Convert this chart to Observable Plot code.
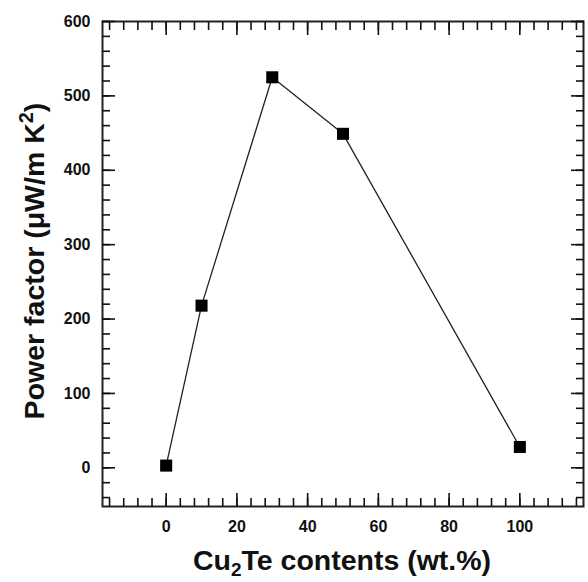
<!DOCTYPE html>
<html>
<head>
<meta charset="utf-8">
<script src="https://cdn.jsdelivr.net/npm/d3@7"></script>
<script src="https://cdn.jsdelivr.net/npm/@observablehq/plot@0.6"></script>
<style>
  html, body { margin: 0; padding: 0; background: #fff; }
  #chart { width: 588px; height: 582px; }
</style>
</head>
<body>
<div id="chart"></div>
<script>
const cu2teContent = [0, 10, 30, 50, 100];
const powerFactor = [3, 218, 525, 449, 28];
const xMajorTicks = [0, 20, 40, 60, 80, 100];
const xMinorTicks = d3.range(-16, 117, 4);
const yMajorTicks = [0, 100, 200, 300, 400, 500, 600];
const yMinorTicks = d3.range(-40, 601, 20);
const xTitle = ["Cu", "2", "Te contents (wt.%)"];
const yTitle = ["Power factor (\u03BCW/m K", "2", ")"];

const data = cu2teContent.map((x, i) => ({x, y: powerFactor[i]}));
const font = "'Liberation Sans', Arial, sans-serif";

const chart = Plot.plot({
  width: 588,
  height: 582,
  marginLeft: 102,
  marginRight: 5,
  marginTop: 21,
  marginBottom: 76,
  style: {fontFamily: font, background: "#fff", color: "#111"},
  x: {domain: [-18, 118]},
  y: {domain: [-52, 600]},
  marks: [
    Plot.frame({strokeWidth: 2, stroke: "#222"}),
    Plot.axisX(xMinorTicks, {anchor: "bottom", tickSize: -8, strokeWidth: 1.6, text: null, label: null}),
    Plot.axisX(xMinorTicks, {anchor: "top", tickSize: -8, strokeWidth: 1.6, text: null, label: null}),
    Plot.axisX(xMajorTicks, {anchor: "bottom", tickSize: -13, strokeWidth: 1.6, tickPadding: 27, fontSize: 16, fontWeight: "bold", label: null}),
    Plot.axisX(xMajorTicks, {anchor: "top", tickSize: -13, strokeWidth: 1.6, text: null, label: null}),
    Plot.axisY(yMinorTicks, {anchor: "left", tickSize: -8, strokeWidth: 1.6, text: null, label: null}),
    Plot.axisY(yMinorTicks, {anchor: "right", tickSize: -8, strokeWidth: 1.6, text: null, label: null}),
    Plot.axisY(yMajorTicks, {anchor: "left", tickSize: -13, strokeWidth: 1.6, tickPadding: 25, fontSize: 16, fontWeight: "bold", label: null}),
    Plot.axisY(yMajorTicks, {anchor: "right", tickSize: -13, strokeWidth: 1.6, text: null, label: null}),
    Plot.line(data, {x: "x", y: "y", stroke: "#222", strokeWidth: 1.3}),
    Plot.dot(data, {x: "x", y: "y", symbol: "square", r: 6.8, fill: "#000", stroke: "none"})
  ]
});

document.getElementById("chart").appendChild(chart);

// axis titles with sub/superscripts
const svg = d3.select(chart.tagName === "svg" ? chart : chart.querySelector("svg"));
const xt = svg.append("text")
  .attr("x", 342).attr("y", 570)
  .attr("text-anchor", "middle")
  .style("font-family", font).style("font-size", "28.5px").style("font-weight", "bold").attr("fill", "#111");
xt.append("tspan").text(xTitle[0]);
xt.append("tspan").attr("dy", 6).style("font-size", "19px").text(xTitle[1]);
xt.append("tspan").attr("dy", -6).text(xTitle[2]);

const yt = svg.append("text")
  .attr("transform", "translate(44,261) rotate(-90)")
  .attr("text-anchor", "middle")
  .style("font-family", font).style("font-size", "28.5px").style("font-weight", "bold").attr("fill", "#111");
yt.append("tspan").text(yTitle[0]);
yt.append("tspan").attr("dy", -11).style("font-size", "20px").text(yTitle[1]);
yt.append("tspan").attr("dy", 11).text(yTitle[2]);
</script>
</body>
</html>
